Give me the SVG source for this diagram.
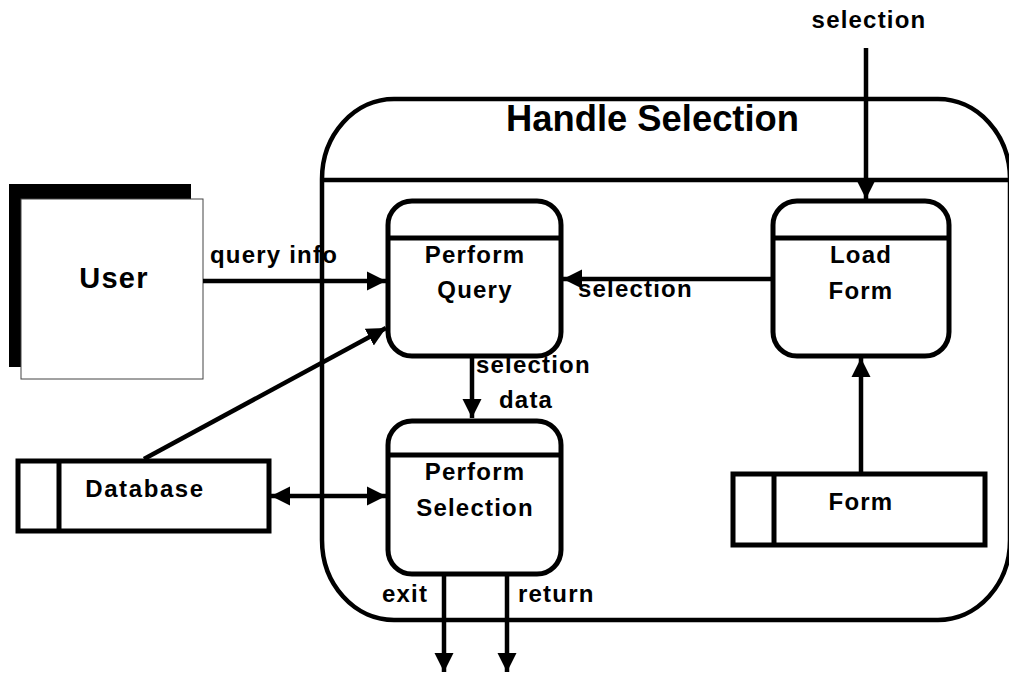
<svg xmlns="http://www.w3.org/2000/svg" width="1009" height="674" viewBox="0 0 1009 674">
<style>
text{font-family:"Liberation Sans",Arial,sans-serif;font-weight:bold;fill:#000;letter-spacing:1.2px}
.lbl{font-size:24px}
.ptxt{font-size:24px;text-anchor:middle}
.proc{fill:#fff;stroke:#000;stroke-width:5}
.store{fill:#fff;stroke:#000;stroke-width:5}
.flow{fill:none;stroke:#000;stroke-width:4.5}
</style>
<defs>
<marker id="ah" markerUnits="userSpaceOnUse" markerWidth="22" markerHeight="22" viewBox="0 0 22 22" refX="19" refY="11" orient="auto-start-reverse">
<path d="M0,1.5 L19,11 L0,20.5 Z" fill="#000"/>
</marker>
</defs>
<rect width="1009" height="674" fill="#fff"/>

<g id="handle-selection">
<rect x="322" y="99" width="688" height="521" rx="72" ry="80" fill="none" stroke="#000" stroke-width="4.5"/>
<line x1="322" y1="180" x2="1010" y2="180" stroke="#000" stroke-width="4.5"/>
<text x="506" y="131" font-size="37" textLength="293" lengthAdjust="spacingAndGlyphs" style="letter-spacing:0">Handle Selection</text>
</g>

<g id="user">
<rect x="9" y="184" width="182" height="183" fill="#000"/>
<rect x="21" y="199" width="182" height="180" fill="#fff" stroke="#444" stroke-width="1"/>
<text x="114" y="288" font-size="29" text-anchor="middle">User</text>
</g>

<g id="perform-query">
<rect class="proc" x="388" y="201" width="173" height="155" rx="24"/>
<line x1="388" y1="238" x2="561" y2="238" stroke="#000" stroke-width="5"/>
<text class="ptxt" x="475" y="263">Perform</text>
<text class="ptxt" x="475" y="298">Query</text>
</g>

<g id="load-form">
<rect class="proc" x="773" y="201" width="176" height="155" rx="24"/>
<line x1="773" y1="238" x2="949" y2="238" stroke="#000" stroke-width="5"/>
<text class="ptxt" x="861" y="263">Load</text>
<text class="ptxt" x="861" y="299">Form</text>
</g>

<g id="perform-selection">
<rect class="proc" x="388" y="421" width="173" height="153" rx="24"/>
<line x1="388" y1="455" x2="561" y2="455" stroke="#000" stroke-width="5"/>
<text class="ptxt" x="475" y="480">Perform</text>
<text class="ptxt" x="475" y="516">Selection</text>
</g>

<g id="database">
<rect class="store" x="18" y="461" width="251" height="70"/>
<line x1="59" y1="461" x2="59" y2="531" stroke="#000" stroke-width="5"/>
<text class="lbl" x="145" y="497" text-anchor="middle" style="letter-spacing:1.6px">Database</text>
</g>

<g id="form">
<rect class="store" x="733" y="474" width="252" height="71"/>
<line x1="774" y1="474" x2="774" y2="545" stroke="#000" stroke-width="5"/>
<text class="lbl" x="861" y="510" text-anchor="middle">Form</text>
</g>

<g id="connectors">
<line class="flow" x1="866" y1="48" x2="866" y2="199" marker-end="url(#ah)"/>
<line class="flow" x1="203" y1="281" x2="386" y2="281" marker-end="url(#ah)"/>
<line class="flow" x1="773" y1="279" x2="563" y2="279" marker-end="url(#ah)"/>
<line class="flow" x1="144" y1="459" x2="386" y2="328" marker-end="url(#ah)"/>
<line class="flow" x1="472" y1="356" x2="472" y2="418" marker-end="url(#ah)"/>
<line class="flow" x1="271" y1="496" x2="386" y2="496" marker-start="url(#ah)" marker-end="url(#ah)"/>
<line class="flow" x1="861" y1="474" x2="861" y2="358" marker-end="url(#ah)"/>
<line class="flow" x1="444" y1="574" x2="444" y2="672" marker-end="url(#ah)"/>
<line class="flow" x1="507" y1="574" x2="507" y2="672" marker-end="url(#ah)"/>
<text class="lbl" x="869" y="28" text-anchor="middle">selection</text>
<text class="lbl" x="210" y="263">query info</text>
<text class="lbl" x="578" y="297">selection</text>
<text class="lbl" x="476" y="373">selection</text>
<text class="lbl" x="499" y="408">data</text>
<text class="lbl" x="382" y="602">exit</text>
<text class="lbl" x="518" y="602">return</text>
</g>
</svg>
